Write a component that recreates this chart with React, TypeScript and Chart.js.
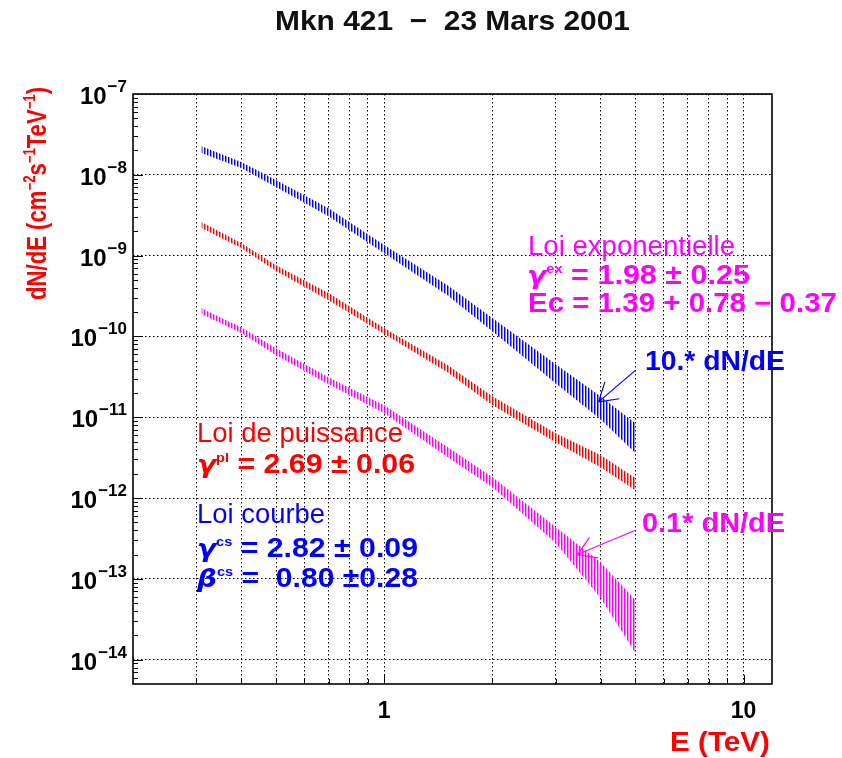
import React, { useEffect, useRef } from 'react';
import { Chart, registerables } from 'chart.js';

Chart.register(...registerables);

// ---------- data ----------
const energies = [0.31, 0.4, 0.5, 0.7, 1, 1.5, 2, 3, 4, 5];

// Loi courbe, 10 * dN/dE (blue)
const curvedHigh = [2.26e-8, 1.44e-8, 8.6e-9, 3.87e-9, 1.35e-9, 4.31e-10, 1.69e-10, 4.54e-11, 1.82e-11, 8.45e-12];
const curvedLow = [1.86e-8, 1.21e-8, 7.05e-9, 3.08e-9, 1.07e-9, 3.24e-10, 1.16e-10, 2.64e-11, 9.46e-12, 3.6e-12];

// Loi de puissance, dN/dE (red)
const powerHigh = [2.6e-9, 1.43e-9, 7.62e-10, 3.44e-10, 1.27e-10, 4.42e-11, 1.82e-11, 6.35e-12, 3.4e-12, 1.77e-12];
const powerLow = [2.19e-9, 1.24e-9, 6.43e-10, 2.81e-10, 1.07e-10, 3.61e-11, 1.41e-11, 4.91e-12, 2.41e-12, 1.25e-12];

// Loi exponentielle, 0.1 * dN/dE (magenta)
const expoHigh = [2.24e-10, 1.3e-10, 7.16e-11, 3.13e-11, 1.41e-11, 4.27e-12, 1.82e-12, 4.37e-13, 1.61e-13, 5.46e-14];
const expoLow = [1.89e-10, 1.1e-10, 5.86e-11, 2.56e-11, 1.12e-11, 3.21e-12, 1.36e-12, 2.77e-13, 5.78e-14, 1.21e-14];

// axis ticks
const xGridValues = [0.3, 0.4, 0.5, 0.6, 0.7, 0.8, 0.9, 1, 2, 3, 4, 5, 6, 7, 8, 9, 10];
const xLabelValues = [1, 10];
const yDecades = [1e-14, 1e-13, 1e-12, 1e-11, 1e-10, 1e-9, 1e-8, 1e-7];
const xMin = 0.2;
const xMax = 12;
const yMin = 5e-15;
const yMax = 1e-7;

// arrows [E, flux]
const blueArrowFrom = [5.0, 3.8e-11];
const blueArrowTo = [3.95, 1.55e-11];
const magArrowFrom = [5.0, 4.0e-13];
const magArrowTo = [3.45, 2.0e-13];

const F = '"Liberation Sans", Arial, sans-serif';
const BLUE = '#0000ff';
const RED = '#ff0000';
const MAG = '#ff00ff';

type Seg = { t: string; f: string; dy?: number };

function rich(ctx: CanvasRenderingContext2D, segs: Seg[], x: number, y: number, width: number, color: string, rotate = false) {
  ctx.save();
  ctx.fillStyle = color;
  ctx.textBaseline = 'alphabetic';
  ctx.textAlign = 'left';
  let total = 0;
  const ws = segs.map((s) => {
    ctx.font = s.f;
    const w = ctx.measureText(s.t).width;
    total += w;
    return w;
  });
  ctx.translate(x, y);
  if (rotate) ctx.rotate(-Math.PI / 2);
  ctx.scale(width / total, 1);
  let cx = 0;
  segs.forEach((s, i) => {
    ctx.font = s.f;
    ctx.fillText(s.t, cx, s.dy || 0);
    cx += ws[i];
  });
  ctx.restore();
}

function makePattern(dark: string, light: string): CanvasPattern | string {
  const c = document.createElement('canvas');
  c.width = 3;
  c.height = 1;
  const g = c.getContext('2d');
  if (!g) return light;
  g.fillStyle = '#ffffff';
  g.fillRect(0, 0, 3, 1);
  g.fillStyle = dark;
  g.fillRect(0, 0, 1, 1);
  g.fillStyle = light;
  g.fillRect(1, 0, 1, 1);
  const p = g.createPattern(c, 'repeat');
  return p || light;
}

function arrow(ctx: CanvasRenderingContext2D, x1: number, y1: number, x2: number, y2: number, color: string) {
  ctx.save();
  ctx.strokeStyle = color;
  ctx.lineWidth = 1.2;
  ctx.beginPath();
  ctx.moveTo(x1, y1);
  ctx.lineTo(x2, y2);
  const back = Math.atan2(y1 - y2, x1 - x2);
  const len = 21;
  const half = (32 * Math.PI) / 180;
  ctx.moveTo(x2, y2);
  ctx.lineTo(x2 + len * Math.cos(back - half), y2 + len * Math.sin(back - half));
  ctx.moveTo(x2, y2);
  ctx.lineTo(x2 + len * Math.cos(back + half), y2 + len * Math.sin(back + half));
  ctx.stroke();
  ctx.restore();
}

const decorPlugin = {
  id: 'decor',
  afterDatasetsDraw(chart: any) {
    const { ctx, chartArea: a, scales } = chart;
    const xs = scales.x;
    const ys = scales.y;
    ctx.save();
    ctx.strokeStyle = '#000';
    ctx.lineWidth = 1;
    ctx.setLineDash([]);
    // y minor / major ticks (inward on left border)
    ctx.beginPath();
    for (let d = -15; d <= -8; d++) {
      for (let m = 1; m <= 9; m++) {
        const v = m * Math.pow(10, d);
        const py = Math.round(ys.getPixelForValue(v)) + 0.5;
        if (py < a.top || py > a.bottom) continue;
        const len = m === 1 ? 10 : 5;
        ctx.moveTo(a.left, py);
        ctx.lineTo(a.left + len, py);
      }
    }
    // x ticks (upward on bottom border)
    for (const v of xGridValues) {
      const px = Math.round(xs.getPixelForValue(v)) + 0.5;
      ctx.moveTo(px, a.bottom);
      ctx.lineTo(px, a.bottom - (v === 1 || v === 10 ? 9 : 5));
    }
    ctx.stroke();
    // frame
    ctx.lineWidth = 1.6;
    ctx.strokeRect(a.left, a.top, a.right - a.left, a.bottom - a.top);

    // y tick labels 10^n
    ctx.fillStyle = '#000';
    ctx.textBaseline = 'alphabetic';
    ctx.textAlign = 'right';
    for (const t of ys.ticks) {
      const py = ys.getPixelForValue(t.value);
      const n = Math.round(Math.log10(t.value));
      const exp = '\u2212' + String(-n);
      ctx.font = `bold 17px ${F}`;
      const ew = ctx.measureText(exp).width;
      ctx.fillText(exp, 127, py - 2);
      ctx.font = `bold 24px ${F}`;
      ctx.fillText('10', 126 - ew, py + 10);
    }

    // arrows
    arrow(ctx, xs.getPixelForValue(blueArrowFrom[0]), ys.getPixelForValue(blueArrowFrom[1]),
      xs.getPixelForValue(blueArrowTo[0]), ys.getPixelForValue(blueArrowTo[1]), BLUE);
    arrow(ctx, xs.getPixelForValue(magArrowFrom[0]), ys.getPixelForValue(magArrowFrom[1]),
      xs.getPixelForValue(magArrowTo[0]), ys.getPixelForValue(magArrowTo[1]), MAG);
    ctx.restore();

    const B = (s: number) => `bold ${s}px ${F}`;
    const N = (s: number) => `${s}px ${F}`;
    const G = (s: number) => `italic bold ${s}px "DejaVu Sans", sans-serif`;

    // title
    rich(ctx, [{ t: 'Mkn 421  \u2212  23 Mars 2001', f: B(28) }], 275, 30, 355, '#111');
    // y axis title
    rich(ctx, [
      { t: 'dN/dE (cm', f: B(27) },
      { t: '\u22122', f: B(16), dy: -11 },
      { t: 's', f: B(27) },
      { t: '\u22121', f: B(16), dy: -11 },
      { t: 'TeV', f: B(27) },
      { t: '\u22121', f: B(16), dy: -11 },
      { t: ')', f: B(27) },
    ], 46, 300, 213, RED, true);
    // x axis title
    rich(ctx, [{ t: 'E (TeV)', f: B(27) }], 670, 751, 100, RED);

    // annotations
    rich(ctx, [{ t: 'Loi exponentielle', f: N(27) }], 528, 255, 207, MAG);
    rich(ctx, [{ t: '\u03b3', f: G(25) }, { t: 'ex', f: B(13), dy: -11 }, { t: ' = 1.98 \u00b1 0.25', f: B(27) }], 527, 284, 223, MAG);
    rich(ctx, [{ t: 'Ec = 1.39 + 0.78 \u2212 0.37', f: B(27) }], 528, 312, 309, MAG);
    rich(ctx, [{ t: '10.* dN/dE', f: B(27) }], 645, 370, 140, BLUE);
    rich(ctx, [{ t: '0.1* dN/dE', f: B(27) }], 642, 532, 143, MAG);

    rich(ctx, [{ t: 'Loi de puissance', f: N(27) }], 197, 442, 206, RED);
    rich(ctx, [{ t: '\u03b3', f: G(25) }, { t: 'pl', f: B(13), dy: -11 }, { t: ' = 2.69 \u00b1 0.06', f: B(27) }], 197, 473, 218, RED);

    rich(ctx, [{ t: 'Loi courbe', f: N(27) }], 197, 523, 128, BLUE);
    rich(ctx, [{ t: '\u03b3', f: G(25) }, { t: 'cs', f: B(13), dy: -11 }, { t: ' = 2.82 \u00b1 0.09', f: B(27) }], 197, 557, 221, BLUE);
    rich(ctx, [{ t: '\u03b2', f: G(25) }, { t: 'cs', f: B(13), dy: -11 }, { t: ' =  0.80 \u00b10.28', f: B(27) }], 197, 587, 221, BLUE);
  },
};

function band(label: string, hi: number[], lo: number[], pattern: any) {
  return [
    {
      label: label + ' high',
      data: energies.map((e, i) => ({ x: e, y: hi[i] })),
      borderColor: 'rgba(0,0,0,0)',
      borderWidth: 0,
      pointRadius: 0,
      tension: 0,
      fill: '+1',
      backgroundColor: pattern,
    },
    {
      label: label + ' low',
      data: energies.map((e, i) => ({ x: e, y: lo[i] })),
      borderColor: 'rgba(0,0,0,0)',
      borderWidth: 0,
      pointRadius: 0,
      tension: 0,
      fill: false,
      backgroundColor: 'rgba(0,0,0,0)',
    },
  ];
}

export default function App() {
  const ref = useRef<HTMLCanvasElement>(null);
  useEffect(() => {
    document.body.style.margin = '0';
    const canvas = ref.current;
    if (!canvas) return;
    const bluePat = makePattern('#0000ff', '#8a8aff');
    const redPat = makePattern('#ff0000', '#ff8a8a');
    const magPat = makePattern('#ff00ff', '#ff8aff');
    const gridCommon = { color: '#000', lineWidth: 1, drawTicks: false };
    const chart = new Chart(canvas, {
      type: 'line',
      data: {
        datasets: [
          ...band('Loi courbe', curvedHigh, curvedLow, bluePat),
          ...band('Loi de puissance', powerHigh, powerLow, redPat),
          ...band('Loi exponentielle', expoHigh, expoLow, magPat),
        ] as any,
      },
      options: {
        animation: false,
        responsive: false,
        devicePixelRatio: 1,
        layout: { padding: { left: 0, right: 70, top: 94, bottom: 0 } },
        plugins: { legend: { display: false }, tooltip: { enabled: false }, title: { display: false } },
        scales: {
          x: {
            type: 'logarithmic',
            min: xMin,
            max: xMax,
            afterBuildTicks: (s: any) => {
              s.ticks = xGridValues.map((v) => ({ value: v }));
            },
            afterFit: (s: any) => {
              s.height = 74;
            },
            grid: gridCommon,
            border: { display: false, dash: [1.5, 2.5] },
            ticks: {
              autoSkip: false,
              maxRotation: 0,
              padding: 14,
              color: '#000',
              font: { family: '"Liberation Sans", Arial, sans-serif', size: 23, weight: 'bold' },
              callback: (v: any) => (xLabelValues.includes(Number(v)) ? String(v) : ''),
            },
          },
          y: {
            type: 'logarithmic',
            min: yMin,
            max: yMax,
            afterBuildTicks: (s: any) => {
              s.ticks = yDecades.map((v) => ({ value: v }));
            },
            afterFit: (s: any) => {
              s.width = 133;
            },
            grid: gridCommon,
            border: { display: false, dash: [1.5, 2.5] },
            ticks: { display: false },
          },
        },
      } as any,
      plugins: [decorPlugin],
    });
    return () => chart.destroy();
  }, []);
  return (
    <div style={{ width: 842, height: 758 }}>
      <canvas ref={ref} width={842} height={758} style={{ display: 'block' }} />
    </div>
  );
}
